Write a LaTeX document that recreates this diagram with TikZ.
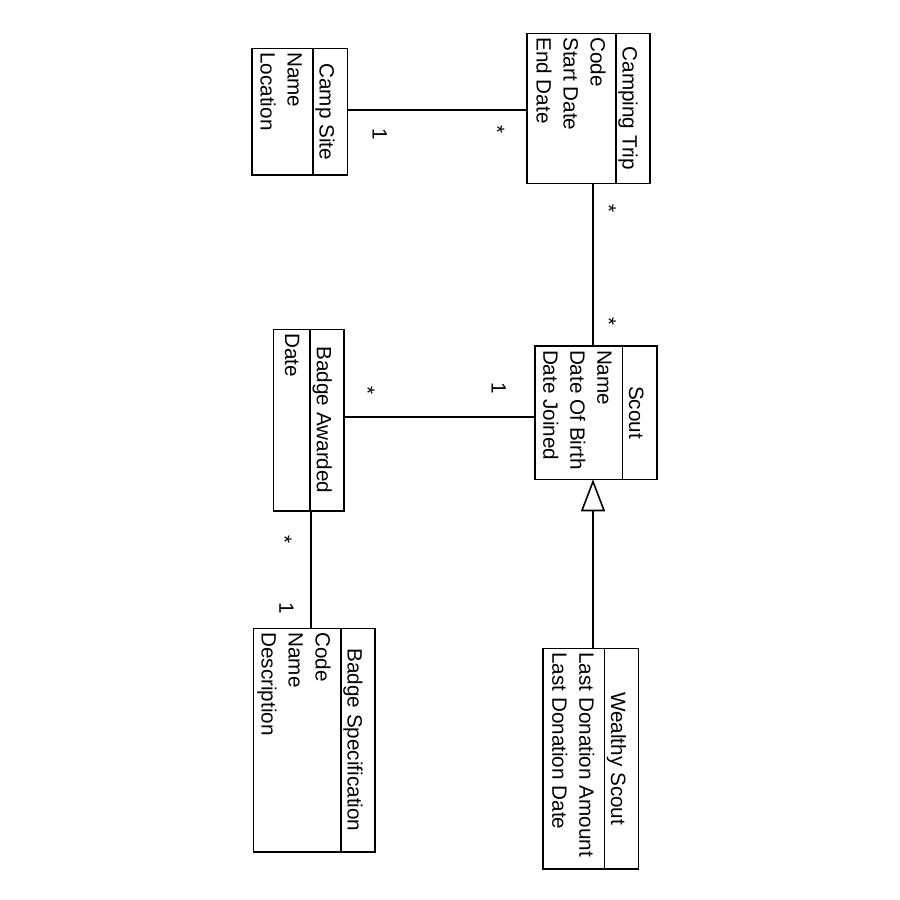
\documentclass[tikz,border=0pt]{standalone}
\usepackage{fontspec}
\setmainfont{Liberation Sans}
\usetikzlibrary{arrows.meta}
\tikzset{
 box/.style={draw, line width=1.6pt, inner sep=0pt, outer sep=0pt, anchor=center},
 divline/.style={line width=1.6pt},
 conn/.style={line width=1.6pt},
 umltext/.style={inner sep=0pt, outer sep=0pt, rotate=-90, font=\fontsize{20.7}{24}\selectfont},
 title/.style={umltext, anchor=base},
 attr/.style={umltext, anchor=base west},
 mult/.style={umltext, anchor=base},
 gen/.style={conn, -{Triangle[open, length=32pt, width=24pt, line width=1.6pt]}}
}
\newcommand\umlclass[8]{%
 \node[box, minimum width={#3-#2}, minimum height={#5-#4}] (#1) at ({(#2+#3)/2},{(#4+#5)/2}) {};
 \draw[divline] (#6,#4) -- (#6,#5);
 \node[title] (#1-title) at ({#6+6.8},{(#4+#5)/2}) {#7};
 \foreach \a [count=\i from 0] in {#8} {
   \node[attr] (#1-attr\i) at ({#6-25-27*\i},{#4+4}) {\a};
 }
}
\begin{document}
\begin{tikzpicture}[x=1pt,y=-1pt]
\fill[white] (0,0) rectangle (900,900);
\useasboundingbox (0,0) rectangle (900,900);
\umlclass{campsite}{252}{347.3}{48.3}{175}{312.7}{Camp Site}{Name,Location}
\umlclass{trip}{526.7}{650}{33.3}{183.3}{615.7}{Camping Trip}{Code,Start Date,End Date}
\umlclass{scout}{535}{657}{346}{479.3}{622.3}{Scout}{Name,Date Of Birth,Date Joined}
\umlclass{awarded}{273.3}{344}{329.3}{510.7}{310}{Badge Awarded}{Date}
\umlclass{spec}{253.3}{375}{628.3}{851.7}{340.7}{Badge Specification}{Code,Name,Description}
\umlclass{wealthy}{542.7}{638.3}{648.3}{869}{604.3}{Wealthy Scout}{Last Donation Amount,Last Donation Date}

\draw[conn] (campsite.east |- 0,110) -- (trip.west |- 0,110);
\draw[conn] (trip.south -| 593,0) -- (scout.north -| 593,0);
\draw[conn] (scout.west |- 0,417) -- (awarded.east |- 0,417);
\draw[conn] (awarded.south -| 311,0) -- (spec.north -| 311,0);
\draw[gen] (wealthy.north -| 593,0) -- (scout.south -| 593,0);

\node[mult] (m1) at (372.7,134) {1};
\node[mult] (m2) at (490.1,130) {*};
\node[mult] (m3) at (601.7,208.3) {*};
\node[mult] (m4) at (601.7,322) {*};
\node[mult] (m5) at (360.4,391) {*};
\node[mult] (m6) at (491.7,388) {1};
\node[mult] (m7) at (277.4,540) {*};
\node[mult] (m8) at (279.3,608.3) {1};
\end{tikzpicture}
\end{document}
